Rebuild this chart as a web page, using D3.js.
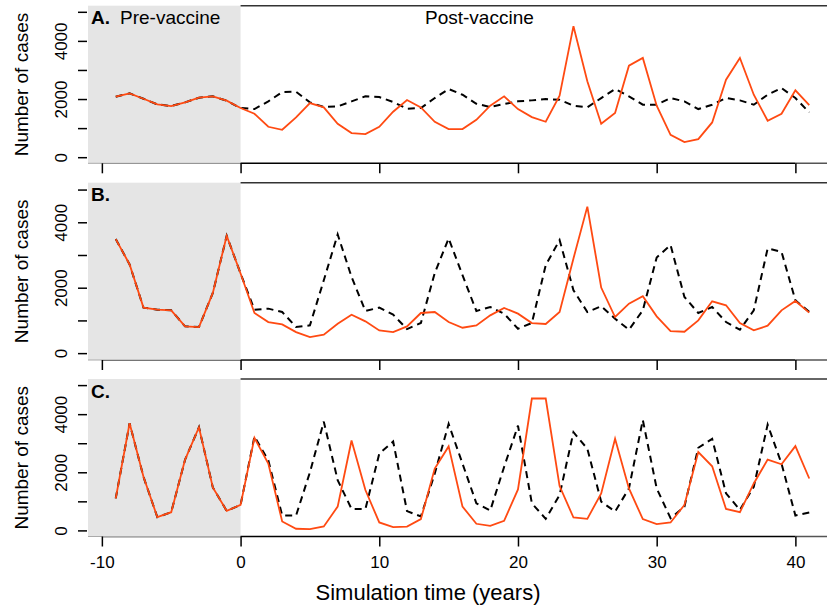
<!DOCTYPE html>
<html lang="en">

<head>
  <meta charset="UTF-8">
  <title>Simulated cases</title>
  <script src="https://d3js.org/d3.v7.min.js"></script>
  <style>
    body { margin: 0; background: #fff; }
    text { font-family: "Liberation Sans", Arial, sans-serif; }
  </style>
</head>

<body>
  <svg id="chart" width="827" height="609"></svg>
  <script>
    // years -9 .. 41, one value per year
    let years = d3.range(-9, 42);
    let xTicks = [-10, 0, 10, 20, 30, 40];
    let yTicks = [0, 1000, 2000, 3000, 4000, 5000];
    let yLabels = [0, 2000, 4000];
    let panelNames = ['A.', 'B.', 'C.'];

    // panel A
    let redA = [2080, 2195, 2011, 1816, 1759, 1885, 2046, 2092, 1943, 1690,
      1494, 1046, 943, 1368, 1862, 1713, 1149, 828, 793, 1046,
      1563, 1966, 1713, 1218, 966, 966, 1287, 1770, 2092, 1655,
      1379, 1218, 2115, 4506, 2609, 1149, 1517, 3149, 3414, 1770,
      770, 517, 621, 1195, 2667, 3414, 2149, 1253, 1494, 2299, 1793];
    let dashA = [2080, 2195, 2011, 1816, 1759, 1885, 2046, 2092, 1943, 1690,
      1655, 1920, 2241, 2253, 1885, 1724, 1747, 1920, 2092, 2069,
      1897, 1667, 1690, 2034, 2345, 2149, 1839, 1724, 1828, 1920,
      1954, 2000, 1977, 1770, 1713, 2034, 2345, 2092, 1805, 1805,
      2034, 1920, 1655, 1805, 2034, 1954, 1805, 2149, 2379, 2034, 1540];

    // panel B
    let redB = [3487, 2710, 1391, 1329, 1309, 818, 798, 1840, 3589, 2434,
      1227, 951, 879, 644, 491, 562, 900, 1176, 971, 695,
      644, 818, 1227, 1258, 951, 777, 849, 1155, 1380, 1207,
      920, 890, 1258, 2894, 4479, 2004, 1104, 1513, 1738, 1125,
      675, 654, 1002, 1585, 1462, 920, 695, 838, 1309, 1595, 1237];
    let dashB = [3487, 2710, 1391, 1329, 1309, 818, 798, 1840, 3589, 2434,
      1329, 1360, 1258, 798, 849, 2229, 3630, 2331, 1288, 1391,
      1176, 736, 920, 2450, 3507, 2383, 1288, 1411, 1207, 746,
      920, 2689, 3456, 1922, 1258, 1432, 1053, 716, 1309, 2924,
      3303, 1718, 1227, 1411, 951, 716, 1309, 3200, 3098, 1616, 1258];

    // panel C
    let redC = [1104, 3686, 1843, 455, 626, 2435, 3549, 1479, 671, 876,
      3185, 2298, 307, 57, 45, 137, 819, 3094, 1388, 273,
      114, 130, 387, 2127, 2890, 819, 228, 159, 330, 1411,
      4539, 4539, 1524, 444, 398, 1274, 3151, 1445, 387, 216,
      273, 876, 2696, 2207, 739, 626, 1615, 2435, 2275, 2901, 1786];
    let dashC = [1104, 3686, 1843, 455, 626, 2435, 3549, 1479, 671, 876,
      3231, 2412, 512, 512, 2000, 3743, 1729, 739, 739, 2639,
      3060, 665, 478, 1957, 3663, 2298, 933, 683, 2184, 3606,
      933, 398, 1217, 3379, 2810, 990, 648, 1445, 3800, 1445,
      421, 819, 2844, 3151, 1274, 705, 1502, 3641, 2298, 512, 614];

    let redSeries = [redA, redB, redC];
    let dashSeries = [dashA, dashB, dashC];

    // panel layout (top, bottom in px)
    let panelBox = [[5.7, 163.3], [182.7, 360], [379, 536.5]];
    let left = 88, right = 837;

    let svg = d3.select('#chart');

    let x = d3.scaleLinear().domain([-11, 43]).range([left, right]);

    panelBox.forEach(function (box, i) {
      let top = box[0], bottom = box[1];
      let y = d3.scaleLinear().domain([-210, 5210]).range([bottom, top]);
      let g = svg.append('g');

      // bottom axis line from -10 to 40
      g.append('line')
        .attr('x1', x(-10)).attr('x2', x(40))
        .attr('y1', bottom).attr('y2', bottom)
        .attr('stroke', '#000').attr('stroke-width', 1.5);
      g.append('line')
        .attr('x1', x(40)).attr('x2', right)
        .attr('y1', bottom).attr('y2', bottom)
        .attr('stroke', '#555').attr('stroke-width', 1.5);

      // pre-vaccine shading
      g.append('rect')
        .attr('x', left).attr('y', top)
        .attr('width', x(0) - left).attr('height', bottom - top)
        .attr('fill', '#e5e5e5');
      g.append('line')
        .attr('x1', left).attr('x2', x(0))
        .attr('y1', bottom).attr('y2', bottom)
        .attr('stroke', '#aaa').attr('stroke-width', 1);

      // top frame line
      g.append('line')
        .attr('x1', x(0)).attr('x2', right)
        .attr('y1', top).attr('y2', top)
        .attr('stroke', '#333').attr('stroke-width', 1.5);

      // x ticks, labels only on the last panel
      let xAxis = d3.axisBottom(x)
        .tickValues(xTicks)
        .tickSize(10)
        .tickSizeOuter(0)
        .tickFormat(function (d) { return i === 2 ? String(d) : ''; });
      let xg = g.append('g')
        .attr('transform', 'translate(0,' + bottom + ')')
        .call(xAxis);
      xg.select('.domain').remove();
      xg.selectAll('line').attr('stroke', '#000').attr('stroke-width', 1.5);
      xg.selectAll('text')
        .attr('font-size', 17)
        .attr('font-family', '"Liberation Sans", Arial, sans-serif')
        .attr('fill', '#000')
        .attr('y', 19)
        .attr('dy', '0.71em');

      // y ticks
      let yAxis = d3.axisLeft(y)
        .tickValues(yTicks)
        .tickSize(9)
        .tickFormat(function (d) { return yLabels.indexOf(d) >= 0 ? d : ''; });
      let yg = g.append('g')
        .attr('transform', 'translate(' + (left - 1) + ',0)')
        .call(yAxis);
      yg.select('.domain').remove();
      yg.selectAll('line').attr('stroke', '#000').attr('stroke-width', 1.5);
      yg.selectAll('text')
        .attr('x', null).attr('dy', null)
        .attr('transform', 'translate(-20,0) rotate(-90)')
        .attr('text-anchor', 'middle')
        .attr('font-size', 17)
        .attr('font-family', '"Liberation Sans", Arial, sans-serif')
        .attr('fill', '#000');

      // y title
      g.append('text')
        .attr('transform', 'translate(28,' + ((top + bottom) / 2) + ') rotate(-90)')
        .attr('text-anchor', 'middle')
        .attr('font-size', 19)
        .text('Number of cases');

      // series
      let line = d3.line()
        .x(function (d, j) { return x(years[j]); })
        .y(function (d) { return y(d); });

      g.append('path')
        .datum(dashSeries[i])
        .attr('d', line)
        .attr('fill', 'none')
        .attr('stroke', '#000')
        .attr('stroke-width', 2)
        .attr('stroke-dasharray', '7,5');

      g.append('path')
        .datum(redSeries[i])
        .attr('d', line)
        .attr('fill', 'none')
        .attr('stroke', '#ff4a12')
        .attr('stroke-width', 1.8);

      // panel letter
      g.append('text')
        .attr('x', 91).attr('y', top + 18.5)
        .attr('font-size', 19)
        .attr('font-weight', 'bold')
        .text(panelNames[i]);

      if (i === 0) {
        g.append('text')
          .attr('x', 120).attr('y', top + 18.5)
          .attr('font-size', 19)
          .text('Pre-vaccine');
        g.append('text')
          .attr('x', 425).attr('y', top + 18.5)
          .attr('font-size', 19)
          .text('Post-vaccine');
      }
    });

    svg.append('text')
      .attr('x', 428).attr('y', 600)
      .attr('text-anchor', 'middle')
      .attr('font-size', 22)
      .text('Simulation time (years)');
  </script>
</body>

</html>
